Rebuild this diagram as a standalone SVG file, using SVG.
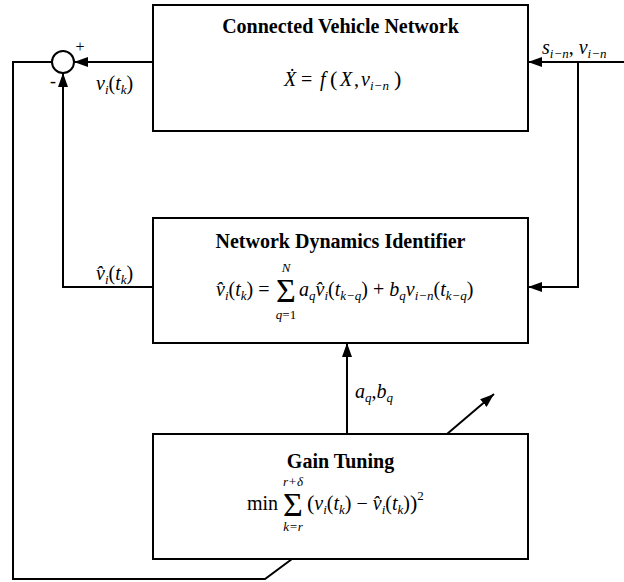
<svg xmlns="http://www.w3.org/2000/svg" width="624" height="582" viewBox="0 0 624 582">
<style>
.box{fill:#fff;stroke:#000;stroke-width:2}
.ln{fill:none;stroke:#000;stroke-width:2}
.t{font-family:"Liberation Serif","Times New Roman",serif;font-weight:bold;font-size:20px;text-anchor:middle}
.m{font-family:"Liberation Serif","Times New Roman",serif;font-size:20px}
.i{font-style:italic}
.s{font-size:13px}
.c{text-anchor:middle}
.lim{font-size:13px}
.p{font-size:22px}
.sig{font-family:"Liberation Serif","Times New Roman",serif;font-size:34px;text-anchor:middle}
</style>
<defs>
<marker id="ah" markerUnits="userSpaceOnUse" markerWidth="14" markerHeight="10" refX="14" refY="5" orient="auto"><path d="M0,0 L14,5 L0,10 z" fill="#000"/></marker>
</defs>
<rect width="624" height="582" fill="#fff"/>
<g id="connectors">
<path class="ln" d="M153,62 H74" marker-end="url(#ah)"/>
<path class="ln" d="M153,287 H63 V73" marker-end="url(#ah)"/>
<path class="ln" d="M52,62 H13 V579 H265 L292,559"/>
<path class="ln" d="M624,62 H528" marker-end="url(#ah)"/>
<path class="ln" d="M578,62 V287 H528" marker-end="url(#ah)"/>
<path class="ln" d="M347,434 V343" marker-end="url(#ah)"/>
<path class="ln" d="M447,434 L494,394" marker-end="url(#ah)"/>
</g>
<g id="sum">
<circle cx="63" cy="62" r="11" fill="#fff" stroke="#000" stroke-width="2"/>
<text x="80" y="52" class="m c" style="font-size:16px">+</text>
<text x="53" y="87" class="m c" style="font-size:18px">-</text>
</g>
<g id="labels">
<text class="m" y="90"><tspan x="96" class="i">v</tspan><tspan class="i s" dy="4">i</tspan><tspan dy="-4">(</tspan><tspan class="i">t</tspan><tspan class="i s" dy="4">k</tspan><tspan dy="-4">)</tspan></text>
<text class="m" y="280"><tspan x="96" class="i">v&#x302;</tspan><tspan class="i s" dy="4">i</tspan><tspan dy="-4">(</tspan><tspan class="i">t</tspan><tspan class="i s" dy="4">k</tspan><tspan dy="-4">)</tspan></text>
<text class="m" y="54"><tspan x="542" class="i">s</tspan><tspan class="i s" dy="4">i−n</tspan><tspan dy="-4">, </tspan><tspan class="i">v</tspan><tspan class="i s" dy="4">i−n</tspan></text>
<text class="m" y="398"><tspan x="355" class="i">a</tspan><tspan class="i s" dy="4">q</tspan><tspan dy="-4">,</tspan><tspan class="i">b</tspan><tspan class="i s" dy="4">q</tspan></text>
</g>
<g id="cvn">
<rect class="box" x="153" y="5" width="375" height="126"/>
<text class="t" x="340.5" y="33">Connected Vehicle Network</text>
<text class="m" y="86"><tspan x="284" class="i">X&#x307;</tspan><tspan x="301">=</tspan><tspan x="320" class="i">f</tspan><tspan x="330" class="p">(</tspan><tspan x="340" class="i">X</tspan><tspan x="354">,</tspan><tspan x="361" class="i">v</tspan><tspan x="370" y="90" class="i s">i−n</tspan><tspan x="394" y="86" class="p">)</tspan></text>
</g>
<g id="ndi">
<rect class="box" x="153" y="218" width="375" height="125"/>
<text class="t" x="340.5" y="248">Network Dynamics Identifier</text>
<text class="m" y="296"><tspan x="216" class="i">v&#x302;</tspan><tspan class="i s" dy="4">i</tspan><tspan dy="-4">(</tspan><tspan class="i">t</tspan><tspan class="i s" dy="4">k</tspan><tspan dy="-4">) =</tspan></text>
<text class="sig" x="286" y="302">Σ</text>
<text class="m c i lim" x="286" y="272">N</text>
<text class="m c lim" x="286" y="319"><tspan class="i">q</tspan>=1</text>
<text class="m" y="296"><tspan x="299" class="i">a</tspan><tspan class="i s" dy="4">q</tspan><tspan class="i" dy="-4">v&#x302;</tspan><tspan class="i s" dy="4">i</tspan><tspan dy="-4">(</tspan><tspan class="i">t</tspan><tspan class="i s" dy="4">k−q</tspan><tspan dy="-4">) + </tspan><tspan class="i">b</tspan><tspan class="i s" dy="4">q</tspan><tspan class="i" dy="-4">v</tspan><tspan class="i s" dy="4">i−n</tspan><tspan dy="-4">(</tspan><tspan class="i">t</tspan><tspan class="i s" dy="4">k−q</tspan><tspan dy="-4">)</tspan></text>
</g>
<g id="gain">
<rect class="box" x="153" y="434" width="375" height="125"/>
<text class="t" x="340.5" y="468">Gain Tuning</text>
<text class="m" x="247" y="510">min</text>
<text class="sig" x="293" y="516">Σ</text>
<text class="m c i lim" x="293" y="486">r+δ</text>
<text class="m c i lim" x="293" y="531">k=r</text>
<text class="m" y="510"><tspan x="307" class="p">(</tspan><tspan class="i">v</tspan><tspan class="i s" dy="4">i</tspan><tspan dy="-4">(</tspan><tspan class="i">t</tspan><tspan class="i s" dy="4">k</tspan><tspan dy="-4">) − </tspan><tspan class="i">v&#x302;</tspan><tspan class="i s" dy="4">i</tspan><tspan dy="-4">(</tspan><tspan class="i">t</tspan><tspan class="i s" dy="4">k</tspan><tspan dy="-4">)</tspan><tspan class="p">)</tspan><tspan class="s" dy="-10">2</tspan></text>
</g>
</svg>
